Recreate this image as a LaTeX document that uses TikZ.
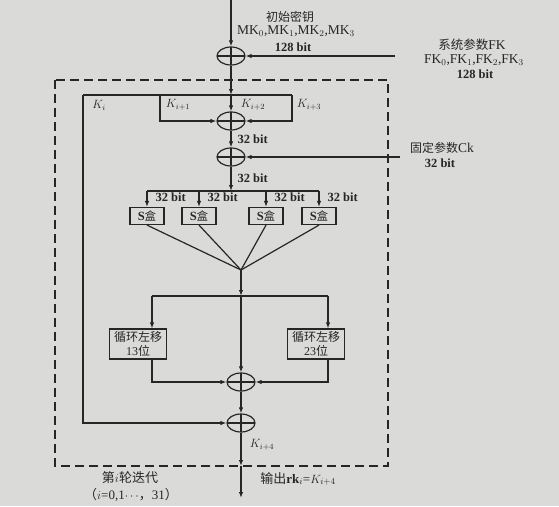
\documentclass[tikz,border=0pt]{standalone}
\usepackage{fontspec}
\setmainfont{Liberation Serif}
\newfontfamily\cjk{Noto Sans CJK SC}
\usetikzlibrary{arrows.meta,shapes.geometric,calc}
\definecolor{ink}{HTML}{262626}
\definecolor{paper}{HTML}{DADAD8}
\tikzset{
 xorop/.style={draw,ellipse,minimum width=28pt,minimum height=18pt,inner sep=0pt,
  path picture={\draw (path picture bounding box.west)--(path picture bounding box.east)
   (path picture bounding box.north)--(path picture bounding box.south);}},
 sbox/.style={draw,minimum width=34pt,minimum height=17pt,inner sep=1pt,
  font=\fontsize{12.5}{14}\selectfont\bfseries},
 rotbox/.style={draw,minimum width=57pt,minimum height=30pt,inner sep=1pt,align=center,
  font=\fontsize{12}{13.5}\selectfont},
 bits/.style={font=\fontsize{12.5}{14}\selectfont\bfseries,inner sep=1pt},
 keys/.style={font=\fontsize{13.5}{15}\selectfont,inner sep=1pt},
 klbl/.style={font=\fontsize{11.5}{13}\selectfont,inner sep=1pt},
 outlbl/.style={font=\fontsize{13}{15}\selectfont,inner sep=0pt}}

\begin{document}
\begin{tikzpicture}[x=1pt,y=-1pt,line width=1.2pt,color=ink,
  >={Latex[length=6pt,width=4.5pt]},font=\fontsize{12}{14}\selectfont]
\fill[paper] (0,0) rectangle (559,506);
\useasboundingbox (0,0) rectangle (559,506);
% key input and FK
\coordinate (mkin) at (231,0);
\coordinate (fkin) at (395,56);
\node[xorop] (x1) at (231,56) {};
\draw[->] (mkin) -- (x1);
\draw[->] (fkin) -- (x1);
\node (mk) at (290,17) {\cjk 初始密钥};
\node[keys] (mkv) at (296,31) {MK$_0$,MK$_1$,MK$_2$,MK$_3$};
\node[bits] (mkb) at (293,47) {128 bit};
\node[keys] (fk) at (472,45) {{\cjk\fontsize{12.5}{14}\selectfont 系统参数}FK};
\node[keys] (fkv) at (474,60) {FK$_0$,FK$_1$,FK$_2$,FK$_3$};
\node[bits] (fkb) at (475,74) {128 bit};
% round frame
\draw[dash pattern=on 9pt off 5pt,line width=1.3pt] (55,80) rectangle (388,466);
% register K_i..K_i+3
\coordinate (k0) at (83,95);
\coordinate (k1) at (160,95);
\coordinate (kin) at (231,95);
\coordinate (k3) at (292,95);
\node[xorop] (x2) at (231,121) {};
\draw (k0) -- (k3);
\draw[->] (x1) -- (kin);
\draw[->] (kin) -- (x2);
\draw[->] (k1) |- (x2);
\draw[->] (k3) |- (x2);
\node[klbl] (lk0) at (99,105) {$K_i$};
\node[klbl] (lk1) at (178,105) {$K_{i+1}$};
\node[klbl] (lk2) at (253,105) {$K_{i+2}$};
\node[klbl] (lk3) at (309,105) {$K_{i+3}$};
% CK
\node[xorop] (x3) at (231,157) {};
\coordinate (ckin) at (400,157);
\draw[->] (x2) -- (x3);
\draw[->] (ckin) -- (x3);
\node[bits,anchor=west] (b1) at (236,139) {32 bit};
\node[keys] (ck) at (442,148) {{\cjk\fontsize{12}{14}\selectfont 固定参数}Ck};
\node[bits] (ckb) at (440,163) {32 bit};
% S boxes
\coordinate (dl) at (147,191);
\coordinate (dm) at (231,191);
\coordinate (dr) at (319,191);
\coordinate (mix) at (241,270);
\draw[->] (x3) -- (dm);
\draw (dl) -- (dr);
\node[bits,anchor=west] (b2) at (236,178) {32 bit};
\foreach \n/\x in {1/147,2/199,3/266,4/319}{
 \node[sbox] (s\n) at (\x,216) {S{\cjk\mdseries\fontsize{11.5}{13}\selectfont 盒}};
 \draw[->] (s\n.north |- dl) -- (s\n.north);
 \node[bits,anchor=west] (bs\n) at (\x+7,197) {32 bit};
 \draw (s\n.south) -- (mix);
}
% L transform
\coordinate (sp) at (241,296);
\coordinate (spl) at (152,296);
\coordinate (spr) at (328,296);
\draw[->] (mix) -- (sp);
\draw (spl) -- (spr);
\node[rotbox] (r13) at (138,344) {{\cjk 循环左移}\\13{\cjk 位}};
\node[rotbox] (r23) at (316,344) {{\cjk 循环左移}\\23{\cjk 位}};
\draw[->] (spl) -- (spl |- r13.north);
\draw[->] (spr) -- (spr |- r23.north);
\node[xorop] (x5) at (241,382) {};
\draw[->] (sp) -- (x5);
\draw[->] (spl |- r13.south) |- (x5);
\draw[->] (spr |- r23.south) |- (x5);
% output
\node[xorop] (x6) at (241,423) {};
\coordinate (outb) at (241,466);
\coordinate (out) at (241,498);
\draw[->] (x5) -- (x6);
\draw[->] (k0) |- (x6);
\draw[->] (x6) -- (outb);
\draw[->] (outb) -- (out);
\node[klbl] (lk4) at (262,445) {$K_{i+4}$};
\node[outlbl] (rnd) at (130,478) {{\cjk 第}$i${\cjk 轮迭代}};
\node[outlbl] (rng) at (131,495) {{\cjk （}$i$=0,1$\cdots${\cjk ，}31{\cjk ）}};
\node[outlbl] (rk) at (298,479) {{\cjk 输出}\textbf{rk}$_i$=$K_{i+4}$};
\end{tikzpicture}
\end{document}
